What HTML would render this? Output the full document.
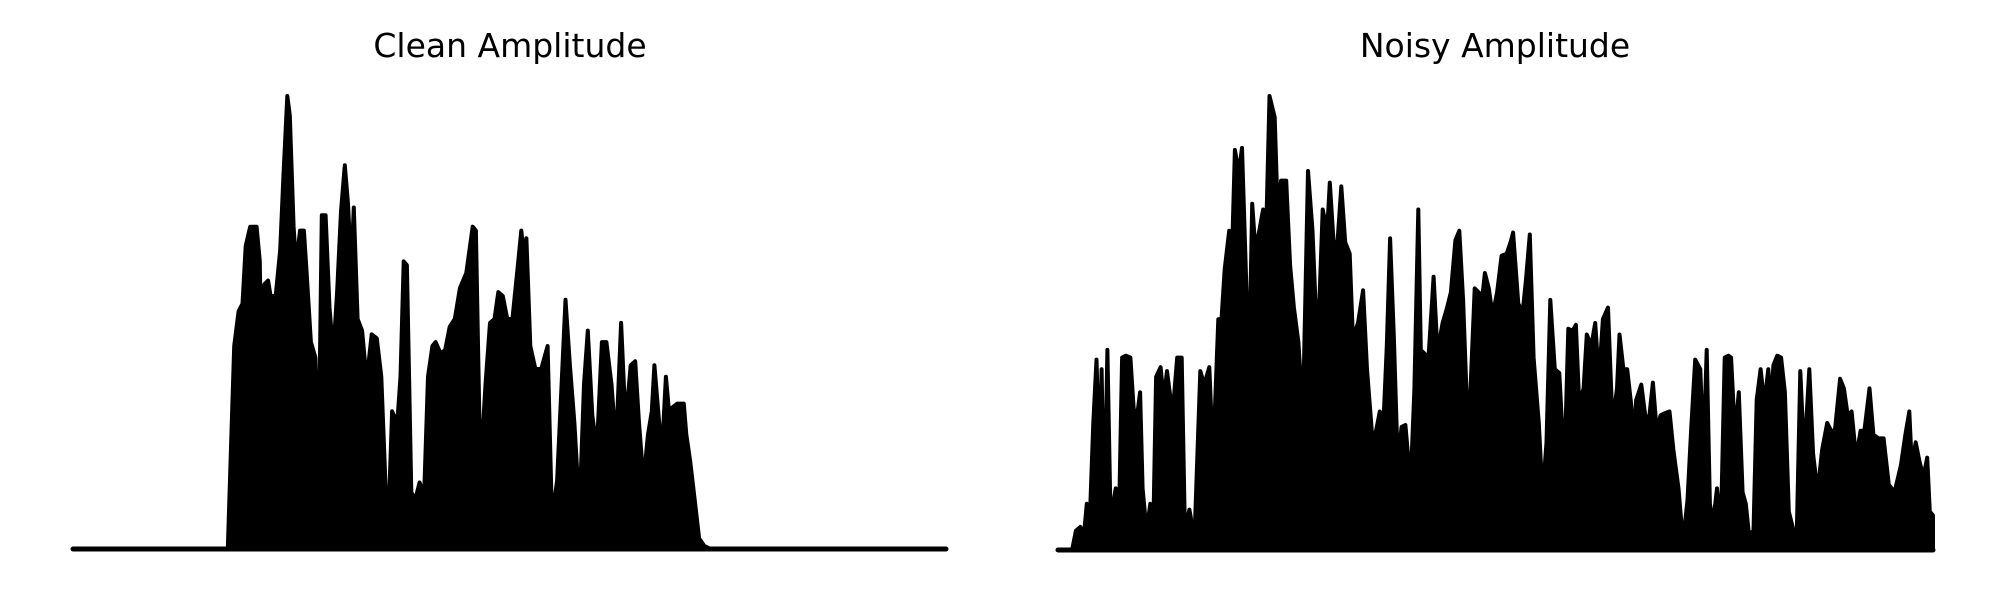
<!DOCTYPE html>
<html><head><meta charset="utf-8"><style>
html,body{margin:0;padding:0;background:#fff;}
svg{display:block;}
text{font-family:"DejaVu Sans","Liberation Sans",sans-serif;}
</style></head><body>
<svg id="chart" width="2000" height="600" viewBox="0 0 2000 600">
<text x="510" y="57" font-size="33" text-anchor="middle">Clean Amplitude</text>
<text x="1495" y="57" font-size="33" text-anchor="middle">Noisy Amplitude</text>
<g id="clean"></g>
<g id="noisy"></g>
</svg>
<script>
const cleanTime=[0,242,252,259,265,270,277,287,292,295,299,305,309,317,324,329,335,339,345,349,355,361,365,372,379,384,389,395,401,407,413,419,425,430,435,439,445,452,459,467,475,482,492,499,507,512,517,522,529,535,542,549,555,562,567,575,582,589,597,605,615,625,630,637,645,652,659,665,672,679,687,695,701,705,709,715,723,732,742,749,757,764,770,777,784,792,799,805,812,819,827,834,842,849,857,864,872,879,885,892,899,905,909,917,923,927,933,937,945,955,959,965,972,979,987,997,1365];
const cleanAmp=[0,0,528,618,638,788,838,838,748,418,688,698,658,658,778,968,1178,1128,838,738,828,828,728,538,498,218,868,868,628,508,668,878,998,898,728,888,598,568,438,558,548,448,18,358,328,448,748,738,148,128,173,138,448,528,538,508,518,578,598,678,718,838,828,198,428,588,598,668,658,598,598,728,828,768,808,528,468,468,528,78,178,428,648,478,328,98,428,568,348,258,538,538,428,268,588,328,478,488,328,178,298,358,478,318,318,448,338,368,378,378,298,228,128,28,8,0];
const noisyTime=[0,22,28,35,40,45,50,55,60,65,68,72,77,82,90,95,100,106,113,118,122,128,132,138,144,148,153,160,165,170,175,180,186,193,198,205,213,222,228,236,242,250,255,260,267,272,276,282,287,292,298,303,308,314,320,325,330,338,343,348,356,362,368,375,382,390,397,402,407,413,420,424,430,436,442,448,455,460,468,476,482,490,495,502,508,513,518,524,530,536,542,550,556,562,566,572,578,586,592,600,607,613,620,626,632,640,650,656,662,666,672,678,685,692,700,706,710,718,725,730,736,742,750,756,762,768,775,782,790,796,803,808,813,820,825,832,838,844,850,858,865,872,876,882,888,894,898,902,910,916,922,928,934,940,946,954,960,968,975,982,988,994,1002,1007,1012,1017,1022,1028,1034,1040,1046,1050,1056,1062,1068,1073,1078,1085,1090,1096,1102,1108,1112,1116,1122,1128,1134,1140,1146,1152,1158,1164,1172,1178,1185,1192,1200,1206,1212,1220,1226,1232,1238,1245,1252,1258,1266,1272,1280,1288,1296,1305,1315,1322,1328,1332,1338,1344,1350,1356,1360,1365];
const noisyAmp=[0,0,50,60,30,120,100,330,495,210,470,70,520,80,160,70,500,505,500,370,330,410,160,50,120,0,450,475,390,465,400,380,500,500,50,105,30,465,430,475,240,600,600,730,830,805,1040,980,1045,780,460,900,780,830,885,840,1180,1125,860,960,960,740,630,540,350,985,830,630,610,885,830,955,800,800,945,800,770,550,590,675,470,300,300,360,340,530,810,550,230,320,325,170,420,885,520,510,500,710,515,590,630,670,805,830,650,280,680,670,660,720,680,610,670,765,770,800,825,640,620,700,820,500,330,140,280,650,470,460,210,575,570,585,380,420,560,530,590,445,600,630,330,420,560,470,470,380,290,390,430,350,340,435,310,350,355,360,260,160,20,130,320,495,470,250,520,120,70,160,50,500,505,500,300,410,150,120,40,50,390,470,380,470,370,480,505,500,410,100,60,10,465,240,470,250,150,260,330,310,310,445,420,350,360,240,310,310,420,300,290,290,170,150,220,300,360,220,280,230,190,240,100,90];
function drawPlot(g,times,amps,tMax,aMax,x0,x1,yBase,yTop,name){
  const xs=t=>x0+(t/tMax)*(x1-x0);
  const ys=a=>yBase-(a/aMax)*(yBase-yTop);
  const n=Math.min(times.length,amps.length);
  let d='M'+xs(times[0]).toFixed(1)+','+ys(0).toFixed(1);
  for(let i=0;i<n;i++) d+=' L'+xs(times[i]).toFixed(1)+','+ys(amps[i]).toFixed(1);
  d+=' L'+xs(times[n-1]).toFixed(1)+','+ys(0).toFixed(1)+' Z';
  const p=document.createElementNS('http://www.w3.org/2000/svg','path');
  p.setAttribute('d',d);
  p.setAttribute('fill','#000');
  p.setAttribute('stroke','#000');
  p.setAttribute('stroke-width','4');
  p.setAttribute('stroke-linejoin','round');
  
  
  g.appendChild(p);
  const b=document.createElementNS('http://www.w3.org/2000/svg','line');
  b.setAttribute('x1',x0);b.setAttribute('x2',x1);
  b.setAttribute('y1',yBase);b.setAttribute('y2',yBase);
  b.setAttribute('stroke','#000');b.setAttribute('stroke-width','5');
  b.setAttribute('stroke-linecap','round');
  
  
  g.appendChild(b);
}
drawPlot(document.getElementById('clean'),cleanTime,cleanAmp,1365,1178,73,946,549,96,'clean');
drawPlot(document.getElementById('noisy'),noisyTime,noisyAmp,1365,1180,1058,1933,550,96,'noisy');
</script>
</body></html>
